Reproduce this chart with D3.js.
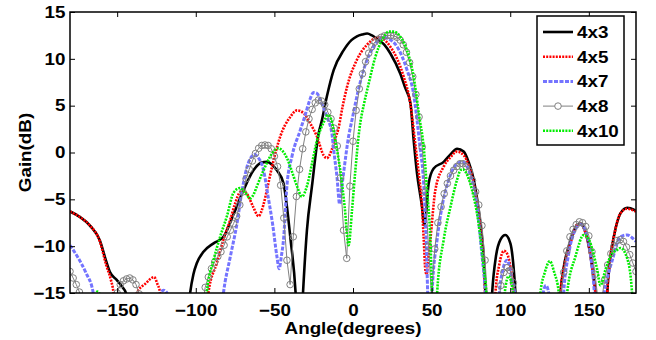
<!DOCTYPE html>
<html>
<head>
<meta charset="utf-8">
<script src="https://cdn.jsdelivr.net/npm/d3@7"></script>
<style>
  body { margin: 0; background: #fff; }
  svg { display: block; }
  text { font-family: "Liberation Sans", Arial, sans-serif; font-weight: bold; }
</style>
</head>
<body>
<script>
// [angle, gain]; values below -15 are off the chart and get clipped
let s4x3 = [[-180,-6.3],[-173.6,-6.9],[-167.3,-7.8],[-161,-9.4],[-157,-11.6],[-154.5,-12.8],[-150.3,-13.6],[-147,-14.3],[-144,-15.2],[-142,-19],
  [-106,-19],[-103.6,-15],[-101.5,-13],[-99.3,-11.8],[-95.1,-10.6],[-88.7,-9.7],[-82.4,-9.0],[-76,-6.6],[-69.6,-4.0],[-63.3,-1.9],[-58.5,-1.1],[-54.7,-1.0],[-51.5,-1.3],[-48.4,-1.9],[-44.2,-3.3],[-42,-5.8],[-39.9,-9.0],[-36.5,-15],[-35,-20],
  [-33.3,-20],[-31.8,-15],[-29.3,-8.3],[-26.1,-3.6],[-21.9,2],[-19.7,3.5],[-16.6,6.0],[-12.3,8.8],[-6,10.9],[-1,12.0],[2.5,12.4],[6,12.6],[9,12.7],[12.1,12.5],[16.3,12.0],[20,11.5],[23.7,10.6],[30.1,8.4],[33,7],[36.5,5.3],[38.6,1.3],[40.7,-2.2],[43.9,-5.8],[45.3,-7.8],[46.5,-6.5],[48.1,-3.3],[51.3,-1.7],[57.7,-1.0],[62,-0.2],[66.2,0.4],[70.4,0.1],[73.5,-1.0],[76.8,-2.9],[81,-7.6],[83.1,-11.1],[84.2,-15],[85.5,-20],
  [87,-20],[88.5,-15],[91,-11],[93.8,-9.3],[96.9,-8.8],[100.1,-9.7],[102,-12],[103.3,-15],[104.5,-20],
  [130.5,-20],[132,-15],[134,-12.3],[138.3,-9.5],[142.6,-7.7],[145,-7.6],[146.8,-8],[150,-10],[153.2,-13.6],[154.2,-15],[155.5,-20],
  [160.5,-20],[161.7,-15],[163.5,-11.5],[165.9,-9.0],[170.1,-6.5],[174.4,-5.9],[178.6,-6.1],[180,-6.3]];

let s4x5 = [[-180,-6.3],[-173.6,-6.9],[-167.3,-7.8],[-161,-9.5],[-157,-12],[-154,-13.6],[-152.3,-15],[-150.5,-19],
  [-139,-19],[-137.5,-15],[-132,-14],[-126.5,-13.3],[-124.5,-14],[-122.7,-15],[-121,-19],
  [-94,-19],[-91.9,-14.9],[-86.6,-11.8],[-82.4,-9.3],[-78.1,-7.2],[-74.9,-5.4],[-71.7,-4.2],[-69.5,-4.1],[-67.5,-4.4],[-63.5,-5.8],[-60.1,-6.8],[-57,-5.6],[-54.5,-3.8],[-51.6,-1.6],[-46.3,1.7],[-39.9,3.8],[-35.6,4.5],[-31.4,4.2],[-27.2,3.1],[-22.9,1.7],[-18.7,-0.3],[-16.6,-0.6],[-13.5,0.3],[-11.5,1.4],[-9.5,2.4],[-6.5,5.0],[-3.8,7.0],[2.5,9.9],[8.9,11.5],[14.2,12.2],[16.5,12.3],[18.5,12.2],[23.7,11.3],[32.2,8.1],[36.5,5.2],[39.7,0.8],[41.8,-2.2],[43.9,-5.8],[45,-9.3],[46,-12.5],[46.8,-13],[47.8,-11.5],[49.2,-9.3],[52.4,-4.0],[57.7,-1.5],[62,-0.5],[66.2,0.1],[70.4,-0.3],[73.5,-1.3],[76.8,-3.3],[81,-8],[83.1,-12.2],[84,-15],[85,-20],
  [89.5,-20],[90.6,-15],[93,-12],[96,-10.5],[98,-10.8],[100.1,-12.2],[102.2,-15],[103.5,-20],
  [130.5,-20],[132,-15],[134,-12.5],[138.3,-9.7],[142.6,-7.7],[144.5,-7.6],[146.8,-8.1],[150,-10],[153.2,-13.6],[154.2,-15],[155.5,-20],
  [160.5,-20],[161.7,-15],[163.5,-11.5],[165.9,-9.0],[170.1,-6.5],[174.4,-6.0],[178.6,-6.2],[180,-6.3]];

let s4x7 = [[-180,-9.9],[-175,-11.2],[-170,-12.8],[-165.2,-15],[-163.5,-19],
  [-124,-19],[-122.5,-15],[-120.5,-14.7],[-118.3,-15],[-116.5,-19],
  [-85,-19],[-82.4,-15],[-78,-11.1],[-73.8,-7.6],[-70.7,-4.2],[-67.5,-1.6],[-64.3,-0.4],[-62.5,-0.2],[-61.1,-0.4],[-56.9,-1.9],[-54,-4.7],[-51,-7.8],[-48.4,-11.1],[-47,-12.4],[-45.5,-11],[-44.2,-9.3],[-42,-3.5],[-38.8,-0.4],[-33.5,2.4],[-30.4,4.0],[-27.5,5.6],[-25.1,6.4],[-22.8,6.3],[-20.8,5.6],[-16.6,3.8],[-13.4,2.0],[-12.3,0.3],[-10.2,-2.6],[-8.5,-5.5],[-7.2,-3.8],[-6,-2.2],[-2.8,1.7],[-0.6,3.5],[2.5,6.0],[6.7,8.8],[13.1,11.3],[17.4,12.2],[19.5,12.3],[21.6,12.2],[28,11.3],[34.4,8.8],[38.6,6.2],[40.7,3.5],[42.8,0.3],[44.5,-2.2],[45.5,-5],[46.5,-9],[47.5,-15],[48.5,-20],
  [49.3,-20],[50.3,-15],[53.5,-9.3],[56.6,-5.8],[60.9,-2.9],[66.2,-1.2],[69.4,-1.0],[73.6,-1.9],[78.9,-5.8],[82.1,-11.1],[84.2,-15],[85.5,-20],
  [92,-20],[93.2,-15],[94.8,-12.9],[98,-11.5],[101.2,-13.6],[102.8,-15],[104,-20],
  [119.5,-20],[121,-15],[122.7,-14.2],[124.5,-15],[126,-20],
  [132.5,-20],[134,-15],[137,-11],[140.5,-8.6],[144.7,-7.7],[149,-9],[151.5,-11.5],[153.5,-15],[155,-20],
  [158.5,-20],[159.8,-15],[161.5,-13.6],[164.9,-11.5],[170.1,-9.0],[174.4,-8.8],[177.5,-9.1],[180,-9.5]];

let s4x8 = [[-180,-12.7],[-178,-13.4],[-176,-14.1],[-174,-14.9],[-172,-16.5],
  [-152,-16.5],[-150,-15],[-148,-14.1],[-146,-13.7],[-144,-13.5],[-142,-13.4],[-140,-13.6],[-138,-14.1],[-136,-15.1],[-134,-16.5],
  [-96,-16.5],[-94,-14.4],[-92,-13.3],[-90,-12.4],[-88,-11.7],[-86,-11.1],[-84,-10.6],[-82,-9.9],[-80,-9.0],[-78,-8.3],[-76,-7.6],[-74,-6.8],[-72,-5.6],[-70,-4.2],[-68,-2.8],[-66,-1.8],[-64,-0.9],[-62,-0.1],[-60,0.45],[-58,0.75],[-56,0.8],[-54,0.75],[-52,0.4],[-50,-0.4],[-48,-1.5],[-46,-3.5],[-44,-7],[-42,-11.5],[-40,-14.1],[-38,-9.0],[-36,-4.7],[-34,-1.8],[-32,0.4],[-30,2.2],[-28,3.6],[-26,4.6],[-24,5.3],[-22,5.6],[-20,5.5],[-18,5.1],[-16,4.3],[-14,3.6],[-12,2.6],[-10,0.7],[-8,-2.7],[-6,-8.3],[-4,-11.3],[-2,-3.6],[0,1.2],[2,4.5],[4,6.8],[6,8.4],[8,9.7],[10,10.6],[12,11.3],[14,11.8],[16,12.1],[18,12.3],[20,12.45],[22,12.5],[24,12.5],[26,12.45],[28,12.3],[30,12.0],[32,11.5],[34,10.7],[36,9.6],[38,8.1],[40,6.2],[42,3.8],[44,0.6],[46,-4.2],[48,-10],[50,-15.5],[52,-10.3],[54,-7.5],[56,-5.8],[58,-4.4],[60,-3.3],[62,-2.5],[64,-1.9],[66,-1.5],[68,-1.2],[70,-1.2],[72,-1.5],[74,-2.0],[76,-3.0],[78,-4.2],[80,-5.6],[82,-7.8],[84,-11.5],[86,-17],
  [92,-17],[94,-14.2],[96,-12.8],[98,-12.3],[100,-12.6],[102,-13.9],[104,-16.5],
  [130,-16.5],[132,-15.2],[134,-12.8],[136,-10.5],[138,-9.0],[140,-8.2],[142,-7.7],[144,-7.4],[146,-7.5],[148,-7.9],[150,-8.9],[152,-10.6],[154,-13.0],[156,-16],
  [158,-16],[160,-13.6],[162,-12.0],[164,-10.8],[166,-10.0],[168,-9.4],[170,-9.3],[172,-9.5],[174,-10.1],[176,-10.9],[178,-11.8],[180,-12.7]];

let s4x10 = [[-180,-20],[-165,-19],[-163.5,-15],[-162.5,-14.85],[-161.5,-15],[-160,-19],
  [-95,-19],[-93,-15],[-88.7,-11.5],[-84.5,-9.0],[-80.2,-6.8],[-76,-4.3],[-72,-3.8],[-68.5,-4.3],[-65.4,-4.9],[-63,-4.4],[-61.1,-3.6],[-56.9,-1.9],[-52.6,-0.4],[-49.5,0.3],[-47.3,0.45],[-45,0.2],[-42,-0.6],[-38.5,-2.2],[-35.6,-3.6],[-32.5,-4.7],[-29.3,-3.6],[-26.1,-1.2],[-22.9,1.3],[-18.7,3.2],[-16,4.0],[-14,3.6],[-11.3,1.3],[-8.1,-1.9],[-5.3,-5.8],[-2.8,-9.9],[-0.6,-6.1],[1.5,-1.9],[4,2.4],[7,5.2],[9.9,7.3],[14.2,10.2],[18.5,12.0],[22.7,12.9],[25.8,12.9],[30.1,12.35],[36,10.0],[38,8.6],[40,6.5],[42,4.0],[45,0.5],[47.1,-4.0],[49.2,-9.3],[50.3,-15],[51.5,-20],
  [52.3,-20],[53.5,-15],[57.7,-9.3],[62,-5.8],[66.2,-2.9],[68.3,-1.9],[70,-1.8],[71.5,-2.05],[75.7,-4.0],[79.9,-7.6],[83.1,-12.2],[84.8,-15],[86,-20],
  [95,-20],[96.5,-15],[99,-13.2],[101.8,-15],[103,-20],
  [118,-20],[119.2,-15],[122,-12.8],[125.2,-11.6],[128,-12.8],[130.9,-15],[132.5,-20],
  [134.5,-20],[136.2,-15],[141.5,-11.1],[146.8,-8.8],[150,-9.3],[155.3,-12.5],[157.4,-14.2],[160.6,-12.5],[164,-11],[168,-10.4],[170.1,-10.2],[174.4,-11.3],[177.5,-15],[179,-20],[180,-20]];

let seriesNames = ["4x3", "4x5", "4x7", "4x8", "4x10"];
let xTicks = [-150, -100, -50, 0, 50, 100, 150];
let yTicks = [-15, -10, -5, 0, 5, 10, 15];

let w = 656, h = 340;
let margin = {top: 12, right: 20, bottom: 47, left: 70};
let width = w - margin.left - margin.right, height = h - margin.top - margin.bottom;
let fontSize = "16.5px", wide = "scale(1.14,1)";   // the figure's font runs wider than arial

let styles = [
  {data: s4x3, color: "#000", width: 2.6, dash: null},
  {data: s4x5, color: "#ff0000", width: 2.6, dash: "2,1.2"},
  {data: s4x7, color: "#7474ff", width: 3, dash: "4,1.5"},
  {data: s4x8, color: "#808080", width: 1, dash: null, marker: true},
  {data: s4x10, color: "#00ee00", width: 2.6, dash: "2,1.2"}
];

let svg = d3.select("body").append("svg").attr("width", w).attr("height", h);
let g = svg.append("g").attr("transform", "translate(" + margin.left + "," + margin.top + ")");

let xScale = d3.scaleLinear().domain([-180, 180]).range([0, width]);
let yScale = d3.scaleLinear().domain([-15, 15]).range([height, 0]);

g.append("clipPath").attr("id", "plotclip")
  .append("rect").attr("width", width).attr("height", height);

let plot = g.append("g").attr("clip-path", "url(#plotclip)");

styles.forEach(function (s) {
  let line = d3.line()
    .x(function (d) { return xScale(d[0]); })
    .y(function (d) { return yScale(d[1]); })
    .curve(s.marker ? d3.curveLinear : d3.curveMonotoneX);
  plot.append("path")
    .datum(s.data)
    .attr("d", line)
    .attr("fill", "none")
    .attr("stroke", s.color)
    .attr("stroke-width", s.width)
    .attr("stroke-dasharray", s.dash);
  if (s.marker) {
    plot.selectAll(".mk").data(s.data).enter().append("circle")
      .attr("cx", function (d) { return xScale(d[0]); })
      .attr("cy", function (d) { return yScale(d[1]); })
      .attr("r", 3.3)
      .attr("fill", "none")
      .attr("stroke", s.color)
      .attr("stroke-width", 1);
  }
});

// axes, ticks pointing inward like matlab
g.append("g").attr("transform", "translate(0," + height + ")")
  .call(d3.axisBottom(xScale).tickValues(xTicks).tickSizeInner(-5).tickSizeOuter(0).tickPadding(11));
g.append("g")
  .call(d3.axisLeft(yScale).tickValues(yTicks).tickSizeInner(-5).tickSizeOuter(0).tickPadding(4));
g.append("g").call(d3.axisTop(xScale).tickValues(xTicks).tickSizeInner(-5).tickSizeOuter(0).tickFormat(""));
g.append("g").attr("transform", "translate(" + width + ",0)")
  .call(d3.axisRight(yScale).tickValues(yTicks).tickSizeInner(-5).tickSizeOuter(0).tickFormat(""));

g.selectAll(".domain").remove();
g.selectAll(".tick line").attr("stroke", "#000").attr("stroke-width", 1);
g.selectAll(".tick text").attr("font-size", fontSize).attr("fill", "#000")
  .attr("font-family", "'Liberation Sans', Arial, sans-serif").attr("font-weight", "bold")
  .attr("transform", wide);

g.append("rect").attr("width", width).attr("height", height)
  .attr("fill", "none").attr("stroke", "#000").attr("stroke-width", 1.5);

g.append("text").text("Angle(degrees)")
  .attr("transform", "translate(" + (width / 2) + "," + (height + 41) + ") " + wide)
  .attr("text-anchor", "middle").attr("font-size", fontSize);
svg.append("text").text("Gain(dB)")
  .attr("transform", "translate(31," + (margin.top + height / 2) + ") rotate(-90) " + wide)
  .attr("text-anchor", "middle").attr("font-size", fontSize);

// legend
let lg = svg.append("g").attr("transform", "translate(537,16)");
lg.append("rect").attr("width", 87).attr("height", 129)
  .attr("fill", "#fff").attr("stroke", "#000").attr("stroke-width", 1.5);
seriesNames.forEach(function (name, i) {
  let s = styles[i];
  let yy = 16 + i * 24.7;
  lg.append("line").attr("x1", 6).attr("x2", 36).attr("y1", yy).attr("y2", yy)
    .attr("stroke", s.color).attr("stroke-width", s.width).attr("stroke-dasharray", s.dash);
  if (s.marker) {
    lg.append("circle").attr("cx", 21).attr("cy", yy).attr("r", 3.3)
      .attr("fill", "#fff").attr("stroke", s.color);
  }
  lg.append("text").text(name)
    .attr("transform", "translate(40," + (yy + 6) + ") " + wide)
    .attr("font-size", fontSize);
});
</script>
</body>
</html>
